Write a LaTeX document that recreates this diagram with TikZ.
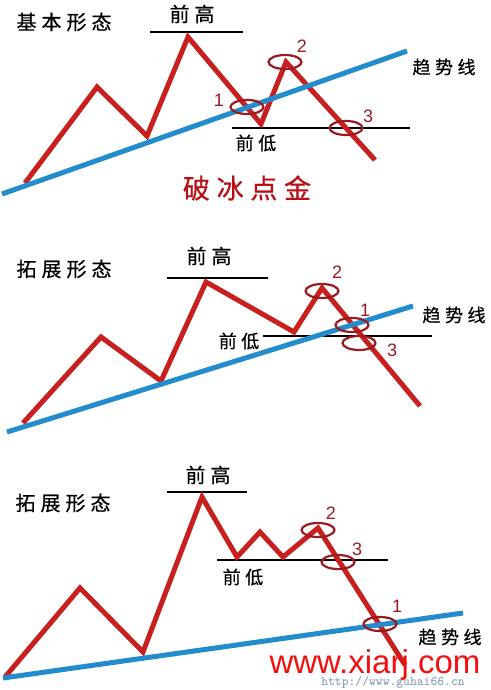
\documentclass[tikz,border=0pt]{standalone}
\usepackage{fontspec}
\setmainfont{Liberation Sans}
\newfontfamily\cjk[LetterSpace=25, FakeBold=0.6]{Noto Sans CJK SC}
\usetikzlibrary{shapes.geometric}
\definecolor{pricered}{HTML}{C8201E}
\definecolor{trendblue}{HTML}{238CCD}
\definecolor{ringred}{HTML}{9A1A22}
\definecolor{titlered}{HTML}{B80F14}
\definecolor{markred}{HTML}{F01010}
\definecolor{markgrey}{HTML}{8FA3BD}

\begin{document}
\begin{tikzpicture}[x=1pt, y=-1pt,
    price/.style={draw=pricered, line width=5pt, line join=miter, miter limit=10},
    trend/.style={draw=trendblue, line width=5pt},
    level/.style={draw=black, line width=2pt},
    ring/.style={draw=ringred, line width=2.2pt, ellipse, minimum width=33pt,
      minimum height=14pt, inner sep=0pt},
    num/.style={text=ringred, inner sep=0pt, font=\fontsize{18}{18}\selectfont},
    lbl/.style={inner sep=0pt, font=\cjk\fontsize{20}{20}\selectfont},
    small/.style={inner sep=0pt, font=\cjk\fontsize{18}{18}\selectfont}
  ]
  \useasboundingbox (0,0) rectangle (490,690);

  % basic form
  \node[lbl] (title1) at (64,22) {基本形态};
  \node[lbl] (high1) at (192,14) {前高};
  \draw[level] (150,32) -- (243,32);
  \draw[level] (232,128) -- (410,128);
  \node[small] (low1) at (256,143) {前低};
  \draw[price] (25,183) -- (97,87) -- (147,136) -- (188,37) -- (261,124)
    -- (286,62) -- (375,160);
  \draw[trend] (2,194) -- (407,51);
  \node[small] (trend1) at (444,67) {趋势线};
  \node[ring] (r1a) at (247,107) {};
  \node[ring] (r1b) at (285,62) {};
  \node[ring] (r1c) at (346,128) {};
  \node[num] (n1a) at (219,100) {1};
  \node[num] (n1b) at (302,46) {2};
  \node[num] (n1c) at (368,116) {3};
  \node[inner sep=0pt, text=titlered, font=\cjk\fontsize{27}{27}\selectfont]
    (slogan) at (247,188) {破冰点金};

  % extended form, break below
  \node[lbl] (title2) at (64,269) {拓展形态};
  \node[lbl] (high2) at (209,256) {前高};
  \draw[level] (167,278) -- (268,278);
  \draw[level] (263,336) -- (432,336);
  \node[small] (low2) at (239,341) {前低};
  \draw[price] (23,423) -- (101,337) -- (161,381) -- (206,282) -- (294,332)
    -- (322,288) -- (420,406);
  \draw[trend] (7,432) -- (413,306);
  \node[small] (trend2) at (454,315) {趋势线};
  \node[ring] (r2a) at (352,325) {};
  \node[ring] (r2b) at (322,291) {};
  \node[ring] (r2c) at (359,343) {};
  \node[num] (n2a) at (365,310) {1};
  \node[num] (n2b) at (337,272) {2};
  \node[num] (n2c) at (392,350) {3};

  % extended form, break through trend
  \node[lbl] (title3) at (63,503) {拓展形态};
  \node[lbl] (high3) at (208,475) {前高};
  \draw[level] (167,492) -- (247,492);
  \draw[level] (217,560) -- (388,560);
  \node[small] (low3) at (243,577) {前低};
  \draw[price] (5,677) -- (80,588) -- (143,652) -- (202,497) -- (237,557)
    -- (260,532) -- (283,557) -- (318,528) -- (405,665);
  \draw[trend] (3,678) -- (463,613);
  \node[small] (trend3) at (450,637) {趋势线};
  \node[ring] (r3a) at (380,624) {};
  \node[ring] (r3b) at (318,530) {};
  \node[ring] (r3c) at (338,562) {};
  \node[num] (n3a) at (397,606) {1};
  \node[num] (n3b) at (331,513) {2};
  \node[num] (n3c) at (357,549) {3};

  % watermarks
  \node[inner sep=0pt, text=markgrey, font=\ttfamily\bfseries\fontsize{13}{13}\selectfont]
    (url) at (393,682) {http://www.guhai66.cn};
  \node[inner sep=0pt, text=markred, font=\fontsize{33}{33}\selectfont]
    (site) at (375,665) {www.xiarj.com};
\end{tikzpicture}
\end{document}
